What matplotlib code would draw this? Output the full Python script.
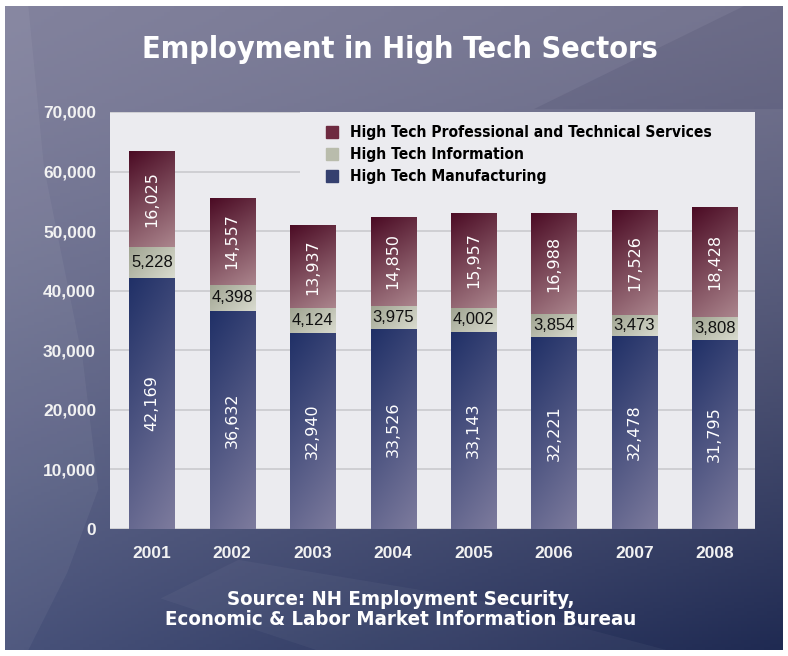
import matplotlib.pyplot as plt
import numpy as np
from matplotlib.patches import Polygon, Rectangle

years = ["2001", "2002", "2003", "2004", "2005", "2006", "2007", "2008"]
manufacturing = [42169, 36632, 32940, 33526, 33143, 32221, 32478, 31795]
information = [5228, 4398, 4124, 3975, 4002, 3854, 3473, 3808]
professional = [16025, 14557, 13937, 14850, 15957, 16988, 17526, 18428]

series_names = ["High Tech Professional and Technical Services",
                "High Tech Information",
                "High Tech Manufacturing"]

SANS = ["Liberation Sans", "DejaVu Sans"]
PANEL = "#ebebef"


def hex_rgb(c):
    c = c.lstrip("#")
    return np.array([int(c[i:i + 2], 16) for i in (0, 2, 4)]) / 255.0


def gradient_fill(ax, patch, c_start, c_end, wx=0.3, wy=0.7):
    # diagonal blend from top-left (c_start) to bottom-right (c_end)
    n = 64
    u, v = np.meshgrid(np.linspace(0, 1, n), np.linspace(0, 1, n))
    t = (wx * u + wy * v)[..., None]
    img = hex_rgb(c_start) * (1 - t) + hex_rgb(c_end) * t
    x0, y0 = patch.get_xy()
    w, h = patch.get_width(), patch.get_height()
    im = ax.imshow(img, extent=[x0, x0 + w, y0, y0 + h], origin="upper",
                   aspect="auto", interpolation="bilinear", zorder=patch.get_zorder())
    im.set_clip_path(patch)


fig = plt.figure(figsize=(7.88, 6.56), dpi=100, facecolor="white")

# backdrop
bg = fig.add_axes([5 / 788, 6 / 656, 778 / 788, 644 / 656])
bg.set_axis_off()
H, W = 200, 240
yy, xx = np.meshgrid(np.linspace(0, 1, H), np.linspace(0, 1, W), indexing="ij")
tl, tr = hex_rgb("#82829d"), hex_rgb("#74748f")
bl, br = hex_rgb("#48527a"), hex_rgb("#1f2a52")
top = tl * (1 - xx[..., None]) + tr * xx[..., None]
bot = bl * (1 - xx[..., None]) + br * xx[..., None]
w_y = (yy ** 1.3)[..., None]
grad = top * (1 - w_y) + bot * w_y
bg.imshow(grad, extent=[0, 1, 0, 1], origin="upper", aspect="auto")
bg.add_patch(Polygon([[0, 1], [0.03, 1], [0.05, 0.75], [0.1, 0.45], [0.12, 0.25],
                      [0.08, 0.12], [0.03, 0.0], [0, 0]],
                     closed=True, color="white", alpha=0.05, lw=0))
bg.add_patch(Polygon([[0.68, 0.84], [0.95, 1], [1, 1], [1, 0.84]],
                     closed=True, color="#2a2a50", alpha=0.12, lw=0))
bg.add_patch(Polygon([[0.3, 0.14], [0.6, 0.08], [0.85, 0.0], [0.4, 0.0], [0.2, 0.08]],
                     closed=True, color="white", alpha=0.04, lw=0))
bg.set_xlim(0, 1)
bg.set_ylim(0, 1)

ax = fig.add_axes([110 / 788, 1 - 529 / 656, 645 / 788, 417 / 656])
ax.set_facecolor(PANEL)
x = np.arange(len(years))
width = 0.56

b_man = ax.bar(x, manufacturing, width, color="none", zorder=3)
b_inf = ax.bar(x, information, width, bottom=manufacturing, color="none", zorder=3)
bottom_prof = np.array(manufacturing) + np.array(information)
b_pro = ax.bar(x, professional, width, bottom=bottom_prof, color="none", zorder=3)

for r in b_man:
    gradient_fill(ax, r, "#203067", "#7d7b9d", wx=0.25, wy=0.75)
for r in b_inf:
    gradient_fill(ax, r, "#9fa390", "#d9dbcf", wx=0.6, wy=0.4)
for r in b_pro:
    gradient_fill(ax, r, "#4b0b24", "#ab858d", wx=0.25, wy=0.75)

for i in range(len(years)):
    ax.text(x[i], manufacturing[i] / 2, f"{manufacturing[i]:,}", rotation=90,
            ha="center", va="center", color="white", fontsize=11.5, family="DejaVu Sans", zorder=5)
    ax.text(x[i], manufacturing[i] + information[i] / 2, f"{information[i]:,}",
            ha="center", va="center", color="#111111", fontsize=12, family=SANS, zorder=5)
    ax.text(x[i], bottom_prof[i] + professional[i] / 2, f"{professional[i]:,}", rotation=90,
            ha="center", va="center", color="white", fontsize=11.5, family="DejaVu Sans", zorder=5)

ax.set_xlim(-0.52, 7.5)
ax.set_ylim(0, 70000)
ax.set_yticks(np.arange(0, 70001, 10000))
ax.set_yticklabels([f"{v:,}" for v in np.arange(0, 70001, 10000)])
ax.set_xticks(x)
ax.set_xticklabels(years)
ax.yaxis.grid(True, color="#cdcdd1", lw=1.3, zorder=1)
ax.set_axisbelow(True)
for s in ax.spines.values():
    s.set_visible(False)
ax.tick_params(length=0, colors="#f2f2f2")
ax.tick_params(axis="y", pad=10)
ax.tick_params(axis="x", pad=12)
for lab in ax.get_yticklabels() + ax.get_xticklabels():
    lab.set_family(SANS)
    lab.set_fontweight("bold")
    lab.set_fontsize(12.5)

# legend block covers the grid on the upper right
ax.add_patch(Rectangle((0.295, 0.805), 0.705, 0.195, transform=ax.transAxes,
                       facecolor=PANEL, edgecolor="none", zorder=1))
handles = [plt.Rectangle((0, 0), 1, 1, color=c) for c in ("#6e2a40", "#b9bcac", "#35406f")]
leg = ax.legend(handles, series_names, loc="upper left", bbox_to_anchor=(0.314, 1.0),
                frameon=False,
                prop={"family": "DejaVu Sans", "stretch": "condensed", "weight": "bold", "size": 11.2},
                handlelength=0.8, handleheight=0.8, handletextpad=0.75,
                labelspacing=0.45, borderpad=0.35)
leg.set_zorder(2)

fig.text(0.508, 0.924, "Employment in High Tech Sectors", ha="center", va="center",
         color="white", fontsize=22, fontweight="bold", family="DejaVu Sans", fontstretch="condensed")
fig.text(0.508, 0.071, "Source: NH Employment Security,\nEconomic & Labor Market Information Bureau",
         ha="center", va="center", color="white", fontsize=14.7, fontweight="bold",
         family="DejaVu Sans", fontstretch="condensed", linespacing=1.05)

fig.savefig("out.png", dpi=100, facecolor="white")
